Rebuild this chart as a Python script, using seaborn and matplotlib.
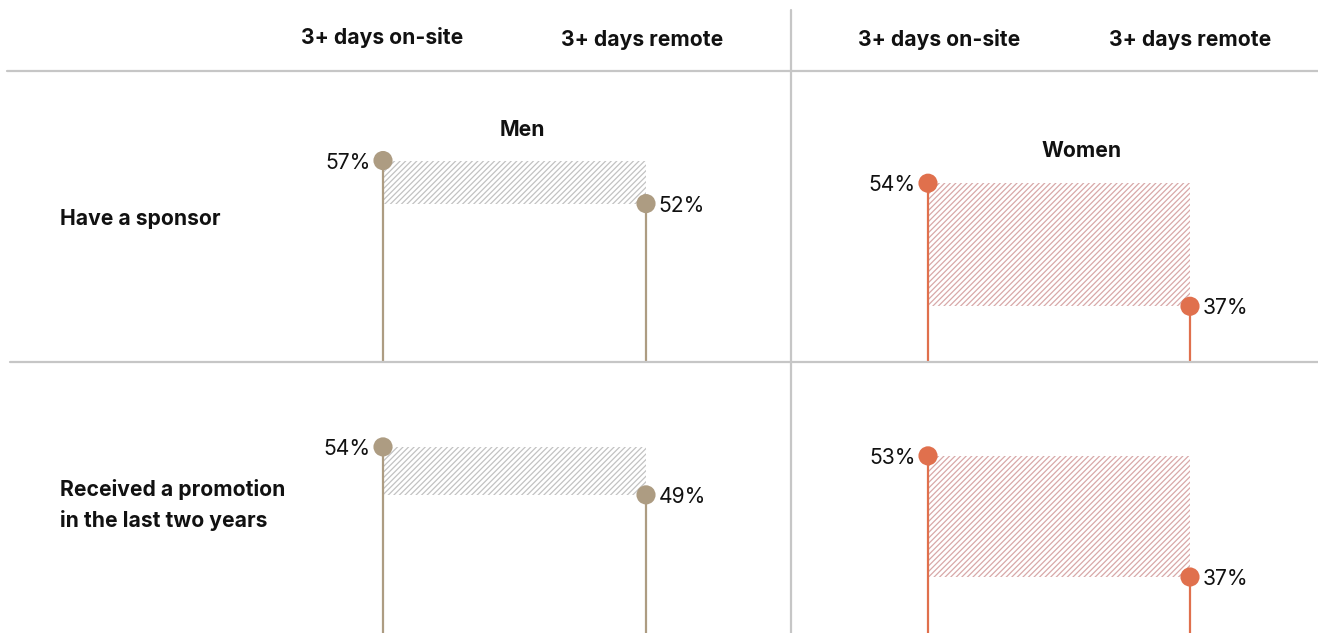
import matplotlib
matplotlib.use("Agg")
import matplotlib.pyplot as plt
import seaborn as sns
import pandas as pd

# data
rows = ["Have a sponsor", "Received a promotion\nin the last two years"]
columns = ["3+ days on-site", "3+ days remote"]
men_onsite = [57, 54]
men_remote = [52, 49]
women_onsite = [54, 53]
women_remote = [37, 37]

sns.set_theme(style="white")
plt.rcParams["font.family"] = ["Inter", "DejaVu Sans"]
plt.rcParams["hatch.linewidth"] = 0.9

W, H = 1318, 633
FS = 15.2
fig = plt.figure(figsize=(W / 100, H / 100), dpi=100)

MEN_C, MEN_HATCH = "#ad9c82", "#c2c2c2"
WOMEN_C, WOMEN_HATCH = "#e0704d", "#d8a8a8"
GRID = "#c6c6c6"
TXT = "#111111"


def px_axes(x0, y0, x1, y1):
    return fig.add_axes([x0 / W, 1 - y1 / H, (x1 - x0) / W, (y1 - y0) / H])


def label(x, y, txt, **kw):
    # place figure text by pixel position (from top-left)
    fig.text(x / W, 1 - (y + 2) / H, txt, fontsize=FS, color=TXT, **kw)


def panel(y0, y1, stem0, stem1, ylim, onsite, remote, color, hatch_color):
    x0, x1 = stem0 - 130, stem0 + 400
    ax = px_axes(x0, y0, x1, y1)
    unit = stem1 - stem0
    ax.set_xlim((x0 - stem0) / unit, (x1 - stem0) / unit)
    ax.set_ylim(*ylim)
    df = pd.DataFrame({"pos": [0, 1], "value": [onsite, remote],
                       "label": columns})
    ax.fill_between([0, 1], [onsite, onsite], [remote, remote],
                    facecolor="none", edgecolor=hatch_color, hatch="//////",
                    linewidth=0)
    ax.vlines(df["pos"], ylim[0], df["value"], color=color, lw=1.6, zorder=2)
    sns.scatterplot(data=df, x="pos", y="value", color=color, s=190,
                    edgecolor="none", ax=ax, zorder=3, legend=False)
    ax.annotate(f"{onsite}%", (0, onsite), xytext=(-9, -1.5),
                textcoords="offset points", ha="right", va="center",
                fontsize=FS, color=TXT)
    ax.annotate(f"{remote}%", (1, remote), xytext=(9, -1.5),
                textcoords="offset points", ha="left", va="center",
                fontsize=FS, color=TXT)
    ax.set_axis_off()
    ax.patch.set_alpha(0)
    return ax


# row 1
panel(71, 362, 383, 646, (33.6, 67.4), men_onsite[0], men_remote[0], MEN_C, MEN_HATCH)
panel(71, 362, 928, 1190, (29.3, 69.5), women_onsite[0], women_remote[0], WOMEN_C, WOMEN_HATCH)
# row 2
panel(362, 633, 383, 646, (34.6, 62.85), men_onsite[1], men_remote[1], MEN_C, MEN_HATCH)
panel(362, 633, 928, 1190, (29.6, 65.4), women_onsite[1], women_remote[1], WOMEN_C, WOMEN_HATCH)

# separators
fig.add_artist(plt.Line2D([7 / W, 1], [1 - 71 / H] * 2, color=GRID, lw=1.6))
fig.add_artist(plt.Line2D([10 / W, 1], [1 - 362 / H] * 2, color=GRID, lw=1.6))
fig.add_artist(plt.Line2D([791 / W] * 2, [0, 1 - 10 / H], color=GRID, lw=1.6))

# column headers
for cx, cy, txt in [(382, 35, columns[0]), (642, 38, columns[1]),
                    (939, 38, columns[0]), (1190, 38, columns[1])]:
    label(cx, cy, txt, ha="center", va="center", fontweight="bold")

# panel titles
label(522, 128, "Men", ha="center", va="center", fontweight="bold")
label(1082, 149, "Women", ha="center", va="center", fontweight="bold")

# row labels
label(60, 217, rows[0], ha="left", va="center", fontweight="bold")
label(60, 503, rows[1], ha="left", va="center", fontweight="bold",
      linespacing=1.6)

fig.savefig("out.png", dpi=100)
